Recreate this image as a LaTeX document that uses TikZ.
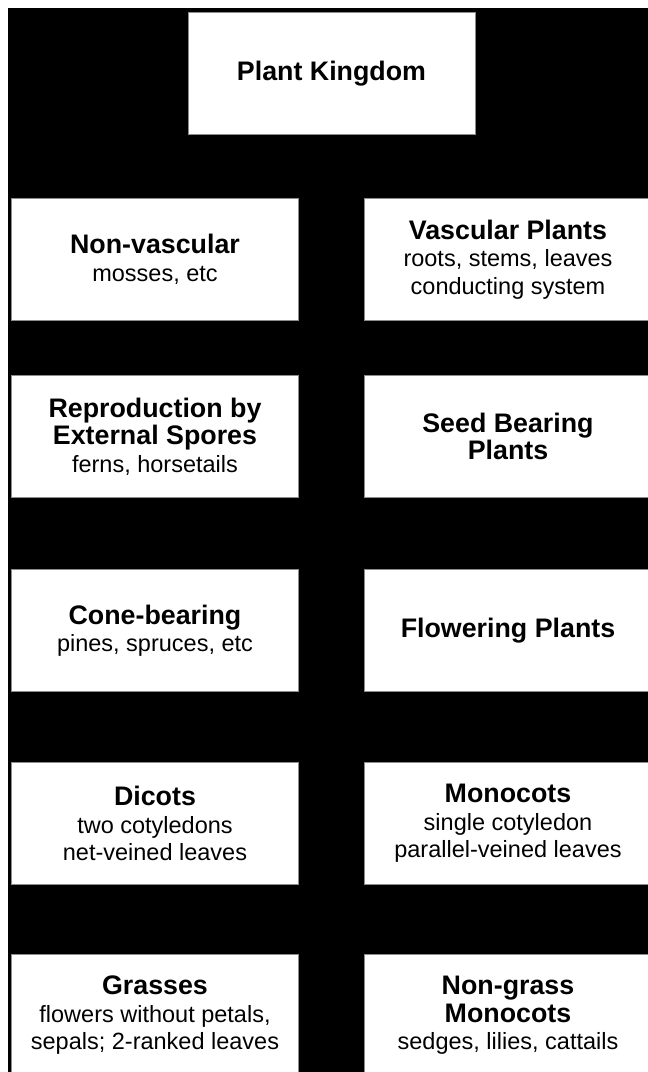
\documentclass[tikz,border=0pt]{standalone}
\usepackage{fontspec}
\setmainfont{Liberation Sans}
\usepackage{tikz}
\usetikzlibrary{positioning}
\definecolor{edge}{HTML}{8C8C8C}
\newcommand\descfont{\fontsize{23.5}{27.5}\selectfont}
\newcommand\ttl[1]{{\fontsize{26.8}{27.5}\selectfont\bfseries #1}}

\begin{document}
\begin{tikzpicture}[x=1pt, y=1pt, node distance=70pt and 65pt, every node/.style={font=\descfont}, box/.style={draw=edge,line width=1pt,fill=white,minimum width=287pt,minimum height=122pt,align=center,inner sep=2pt}]
\useasboundingbox (0,0) rectangle (648,-1072);
\fill[black] (7.5,-8) rectangle (648,-1072);
\node[box,anchor=north] (kingdom) at (331.5,-12) {\ttl{Plant Kingdom}};
\node[box,below left=63pt and 32.5pt of kingdom.south] (nonvasc) {\ttl{Non-vascular}\\mosses, etc};
\node[box,right=of nonvasc] (vasc) {\ttl{Vascular Plants}\\roots, stems, leaves\\conducting system};
\node[box,below=54pt of nonvasc] (spores) {\ttl{Reproduction by}\\\ttl{External Spores}\\ferns, horsetails};
\node[box,right=of spores] (seed) {\ttl{Seed Bearing}\\\ttl{Plants}};
\node[box,below=71pt of spores] (cone) {\ttl{Cone-bearing}\\pines, spruces, etc};
\node[box,right=of cone] (flower) {\ttl{Flowering Plants}};
\node[box,below=70pt of cone] (dicots) {\ttl{Dicots}\\two cotyledons\\net-veined leaves};
\node[box,right=of dicots] (monocots) {\ttl{Monocots}\\single cotyledon\\parallel-veined leaves};
\node[box,below=69pt of dicots] (grasses) {\ttl{Grasses}\\flowers without petals,\\sepals; 2-ranked leaves};
\node[box,right=of grasses] (nongrass) {\ttl{Non-grass}\\\ttl{Monocots}\\sedges, lilies, cattails};
\end{tikzpicture}
\end{document}
